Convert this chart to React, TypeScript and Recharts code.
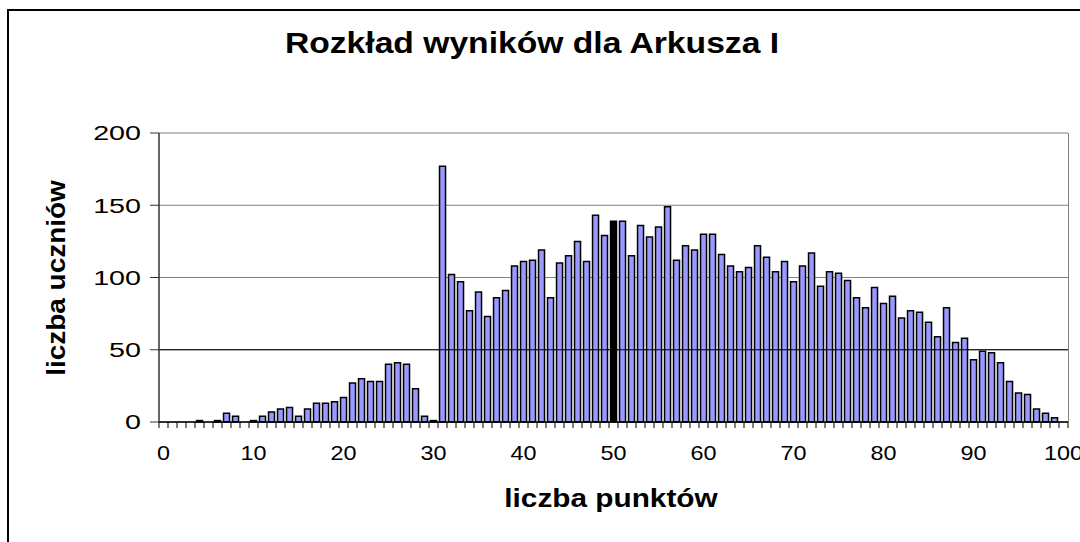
import React from 'react';
import { BarChart, Bar, XAxis, YAxis, CartesianGrid, ReferenceLine, Cell } from 'recharts';

// liczba punktów 0..100
const points = [
  0, 1, 2, 3, 4, 5, 6, 7, 8, 9, 10, 11, 12, 13, 14, 15, 16, 17, 18, 19, 20, 21, 22, 23, 24, 25, 26,
  27, 28, 29, 30, 31, 32, 33, 34, 35, 36, 37, 38, 39, 40, 41, 42, 43, 44, 45, 46, 47, 48, 49, 50, 51,
  52, 53, 54, 55, 56, 57, 58, 59, 60, 61, 62, 63, 64, 65, 66, 67, 68, 69, 70, 71, 72, 73, 74, 75, 76,
  77, 78, 79, 80, 81, 82, 83, 84, 85, 86, 87, 88, 89, 90, 91, 92, 93, 94, 95, 96, 97, 98, 99, 100,
];

// liczba uczniów
const students = [
  0, 0, 0, 0, 1, 0, 1, 6, 4, 0,
  1, 4, 7, 9, 10, 4, 9, 13, 13, 14,
  17, 27, 30, 28, 28, 40, 41, 40, 23, 4,
  1, 177, 102, 97, 77, 90, 73, 86, 91, 108,
  111, 112, 119, 86, 110, 115, 125, 111, 143, 129,
  139, 139, 115, 136, 128, 135, 149, 112, 122, 119,
  130, 130, 116, 108, 104, 107, 122, 114, 104, 111,
  97, 108, 117, 94, 104, 103, 98, 86, 79, 93,
  82, 87, 72, 77, 76, 69, 59, 79, 55, 58,
  43, 49, 48, 41, 28, 20, 19, 9, 6, 3,
  0,
];

const yTicks = [0, 50, 100, 150, 200];

const data = points.map((p, i) => ({ pkt: p, n: students[i] }));

const font = '"Liberation Sans", Arial, sans-serif';
const HALF_BAND = 4.5;

// Excel style: tick marks between categories, a label every 10 points
function XTick(props: any) {
  const { x, y, payload, index } = props;
  const last = index === points.length - 1;
  return (
    <g>
      <line x1={x - HALF_BAND} x2={x - HALF_BAND} y1={y} y2={y + 6} stroke="#000" />
      {last && <line x1={x + HALF_BAND} x2={x + HALF_BAND} y1={y} y2={y + 6} stroke="#000" />}
      {payload.value % 10 === 0 && (
        <g transform={`translate(${x},${y + 24}) scale(1.17,1)`}>
          <text x={0} y={0} dy="0.71em" textAnchor="middle" fontSize={20} fontFamily={font} fill="#000">
            {payload.value}
          </text>
        </g>
      )}
    </g>
  );
}

function YTick(props: any) {
  const { x, y, payload } = props;
  return (
    <g transform={`translate(${x},${y}) scale(1.4,1)`}>
      <text x={0} y={0} dy="0.355em" textAnchor="end" fontSize={20.5} fontFamily={font} fill="#000">
        {payload.value}
      </text>
    </g>
  );
}

export default function App() {
  return (
    <div
      style={{
        position: 'absolute',
        left: 0,
        top: 0,
        width: 1080,
        height: 542,
        overflow: 'hidden',
        background: '#fff',
        fontFamily: font,
      }}
    >
      {/* outer chart border */}
      <div
        style={{
          position: 'absolute',
          left: 7,
          top: 9,
          width: 1200,
          height: 700,
          borderLeft: '2px solid #000',
          borderTop: '2px solid #000',
        }}
      />

      <div
        style={{
          position: 'absolute',
          left: 0,
          top: 29,
          width: 1064,
          textAlign: 'center',
          fontSize: 29,
          lineHeight: '29px',
          fontWeight: 700,
          color: '#000',
          transform: 'scaleX(1.16)',
          transformOrigin: '532px 0',
        }}
      >
        Rozkład wyników dla Arkusza I
      </div>

      <div style={{ position: 'absolute', left: 0, top: 0 }}>
        <BarChart
          width={1080}
          height={542}
          data={data}
          margin={{ top: 133, right: 12, bottom: 90, left: 0 }}
          barCategoryGap="17%"
        >
          <CartesianGrid vertical={false} stroke="#808080" strokeWidth={1} />
          <ReferenceLine y={50} stroke="#000" strokeWidth={1} />
          <XAxis
            dataKey="pkt"
            interval={0}
            height={30}
            tickSize={0}
            tickMargin={0}
            axisLine={{ stroke: '#000', strokeWidth: 1.5 }}
            tickLine={false}
            tick={<XTick />}
          />
          <YAxis
            width={159}
            domain={[0, 200]}
            ticks={yTicks}
            tickSize={9}
            tickMargin={9}
            axisLine={{ stroke: '#333', strokeWidth: 1.5 }}
            tickLine={{ stroke: '#333' }}
            tick={<YTick />}
          />
          <Bar dataKey="n" fill="#9999ff" stroke="#000" strokeWidth={1.5} isAnimationActive={false}>
            {data.map((d) => (
              <Cell key={d.pkt} fill={d.pkt === 50 ? '#000' : '#9999ff'} />
            ))}
          </Bar>
        </BarChart>
      </div>

      {/* right edge of the plot area */}
      <div
        style={{
          position: 'absolute',
          left: 1068,
          top: 133,
          width: 1,
          height: 289,
          background: '#808080',
        }}
      />

      <div
        style={{
          position: 'absolute',
          left: 56,
          top: 278,
          width: 300,
          height: 26,
          transform: 'translate(-50%, -50%) rotate(-90deg) scaleX(1.075)',
          textAlign: 'center',
          fontSize: 26,
          lineHeight: '26px',
          fontWeight: 700,
          color: '#000',
          whiteSpace: 'nowrap',
        }}
      >
        liczba uczniów
      </div>

      <div
        style={{
          position: 'absolute',
          left: 411,
          top: 485,
          width: 400,
          textAlign: 'center',
          fontSize: 26,
          lineHeight: '26px',
          fontWeight: 700,
          color: '#000',
          transform: 'scaleX(1.145)',
        }}
      >
        liczba punktów
      </div>
    </div>
  );
}
